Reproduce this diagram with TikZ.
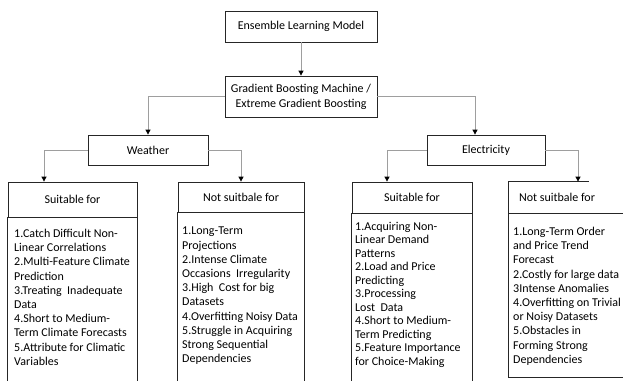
\documentclass[tikz,border=0pt]{standalone}
\usepackage{fontspec}
\setmainfont{Carlito}
\usetikzlibrary{arrows.meta}
\begin{document}
\begin{tikzpicture}[x=1pt,y=-1pt,
  box/.style={draw=black!85, line width=0.8pt, inner sep=0pt, align=center, font=\fontsize{12}{15}\selectfont},
  conn/.style={draw=black!38, line width=0.8pt, -{Triangle[width=5pt,length=5pt,color=black]}},
  side/.style={draw=black!85, line width=0.8pt},
  listtxt/.style={anchor=north west, align=left, inner sep=0pt, font=\fontsize{12}{14.2}\selectfont}]
\useasboundingbox (0,0) rectangle (623,381);
% top boxes
\node[box, minimum width=152pt, minimum height=31pt] (elm) at (301,26.5) {Ensemble Learning Model};
\node[box, minimum width=152pt, minimum height=41pt] (gbm) at (301,96.5) {Gradient Boosting Machine /\\Extreme Gradient Boosting};
\node[box, minimum width=120pt, minimum height=30pt] (wea) at (148,150) {Weather};
\node[box, minimum width=118pt, minimum height=30pt] (ele) at (486,150) {Electricity};
% headers
\node[box, minimum width=129pt, minimum height=35pt] (hws) at (72.5,199.5) {Suitable for};
\node[box, minimum width=126pt, minimum height=30pt] (hwn) at (241,197) {Not suitbale for};
\node[box, minimum width=120pt, minimum height=31pt] (hes) at (412,197.5) {Suitable for};
\node[box, draw=none, minimum width=96pt, minimum height=31pt] (hen) at (557,197.5) {Not suitbale for};
% open box sides
\draw[side] (hws.south west) -- (hws.south west |- 0,381);
\draw[side] (hws.south east) -- (hws.south east |- 0,381);
\draw[side] (hwn.south west) -- (hwn.south west |- 0,381);
\draw[side] (hwn.south east) -- (hwn.south east |- 0,381);
\draw[side] (hes.south west) -- (hes.south west |- 0,381);
\draw[side] (hes.south east) -- (hes.south east |- 0,381);
\draw[side] ([xshift=80pt]hen.north west) -- (hen.north west) -- (hen.north west |- 0,377) -- ++(120,0);
\draw[side] (hen.south west) -- ++(120,0);
% connectors
\draw[conn] (elm.south) -- (gbm.north);
\draw[conn] (gbm.west) -| (wea.north);
\draw[conn] (gbm.east) -| ([xshift=-11pt]ele.north);
\draw[conn] (wea.west) -| ([xshift=-28.5pt]hws.north);
\draw[conn] (wea.east) -| (hwn.north);
\draw[conn] (ele.west) -| ([xshift=-25pt]hes.north);
\draw[conn] (ele.east) -| ([xshift=21pt]hen.north);
% lists
\node[listtxt] (lws) at (14,229) {1.Catch Difficult Non-\\Linear Correlations\\2.Multi-Feature Climate\\Prediction\\3.Treating\ \ Inadequate\\Data\\4.Short to Medium-\\Term Climate Forecasts\\5.Attribute for Climatic\\Variables};
\node[listtxt] (lwn) at (182,227) {1.Long-Term\\Projections\\2.Intense Climate\\Occasions\ \ Irregularity\\3.High\ \ Cost for big\\Datasets\\4.Overfitting Noisy Data\\5.Struggle in Acquiring\\Strong Sequential\\Dependencies};
\node[listtxt, font=\fontsize{12}{13.5}\selectfont] (les) at (355,222) {1.Acquiring Non-\\Linear Demand\\Patterns\\2.Load and Price\\Predicting\\3.Processing\\Lost\ \ Data\\4.Short to Medium-\\Term Predicting\\5.Feature Importance\\for Choice-Making};
\node[listtxt] (len) at (513,227) {1.Long-Term Order\\and Price Trend\\Forecast\\2.Costly for large data\\3Intense Anomalies\\4.Overfitting on Trivial\\or Noisy Datasets\\5.Obstacles in\\Forming Strong\\Dependencies};
\end{tikzpicture}
\end{document}
